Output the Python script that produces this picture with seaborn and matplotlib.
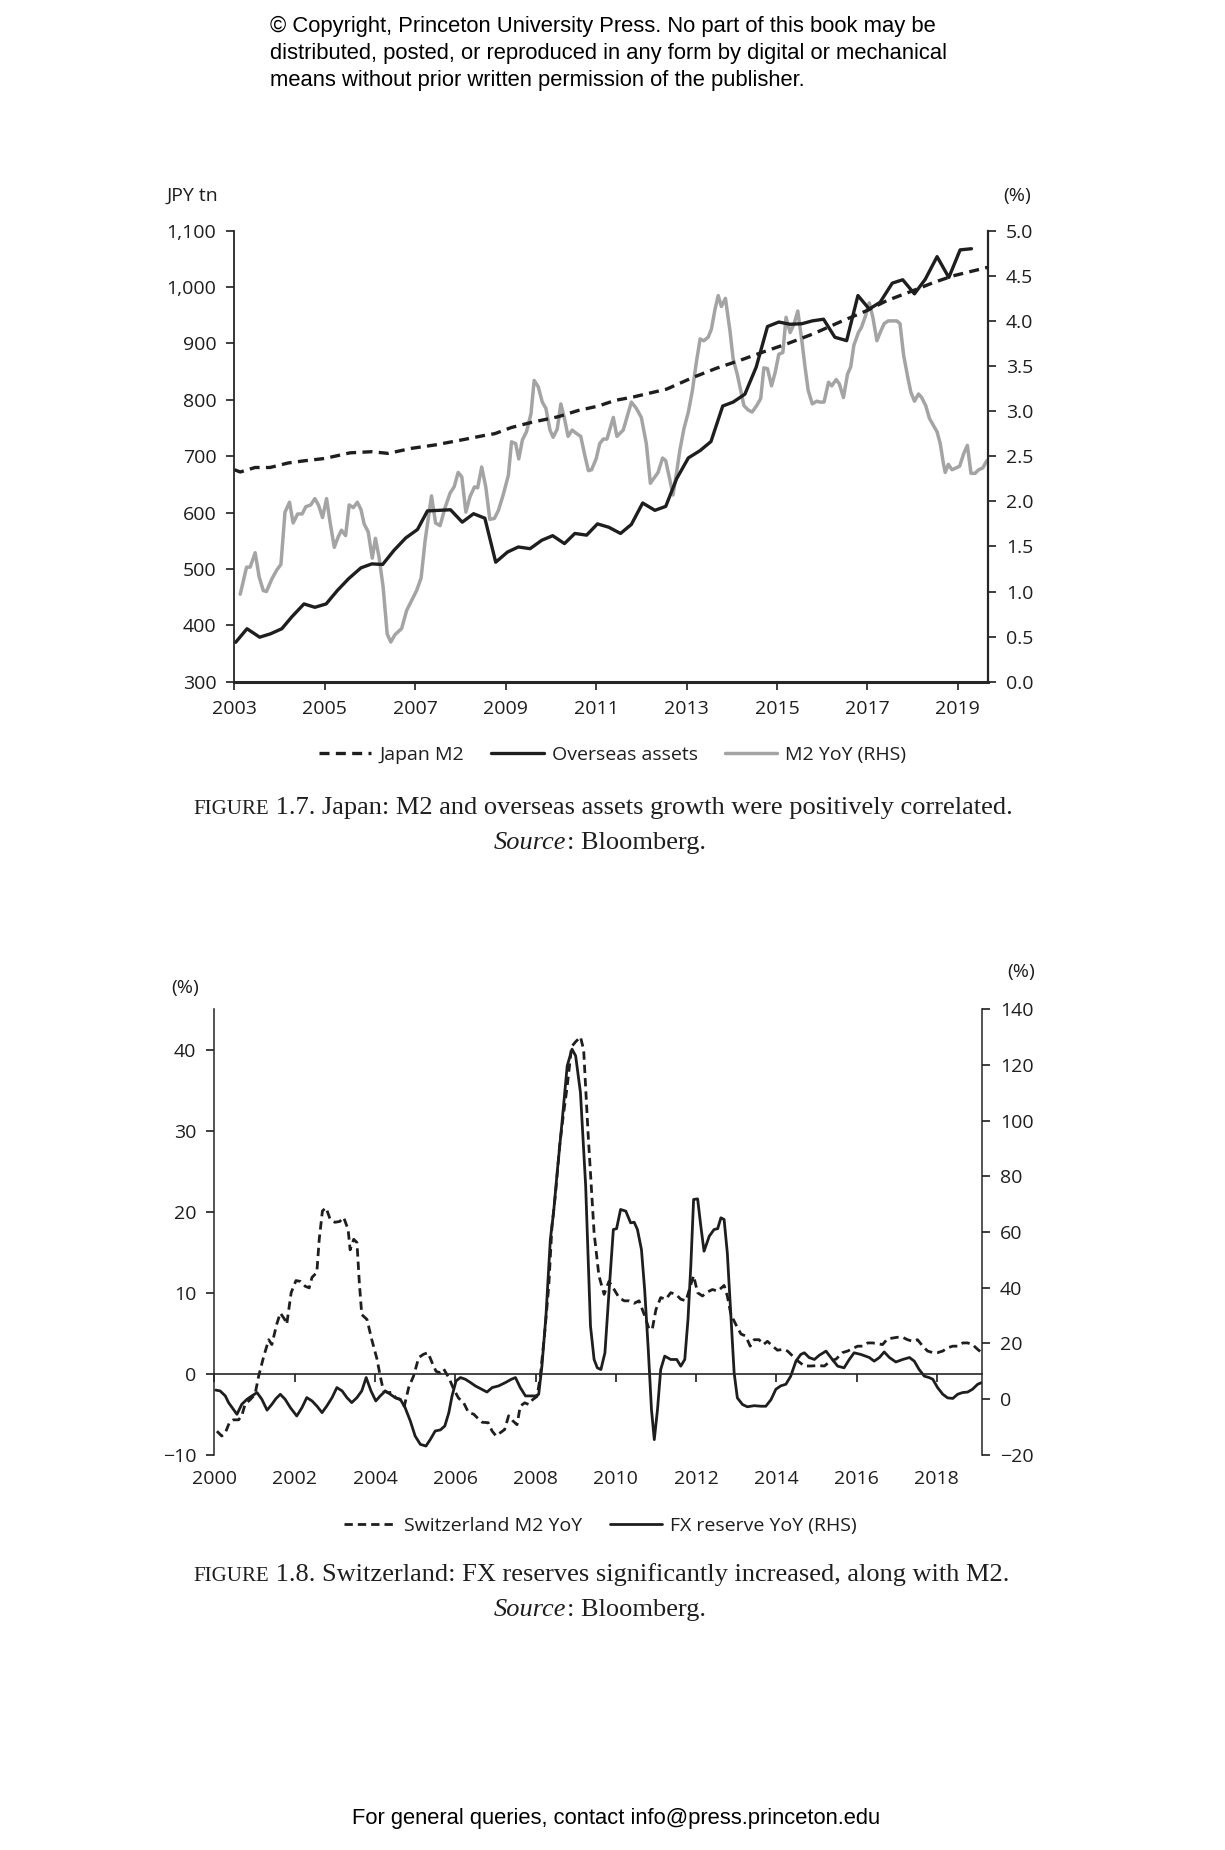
import matplotlib
matplotlib.use("Agg")
import matplotlib.pyplot as plt
import seaborn as sns

#  Data 
# Figure 1.7 (Japan): left axis JPY tn, right axis % (RHS)
jm2_year = [2003.0, 2003.13, 2003.46, 2003.79, 2004.19, 2004.56, 2005.0, 2005.56, 2006.04,
            2006.4, 2006.92, 2007.44, 2008.1, 2008.54, 2008.76, 2009.13, 2009.57, 2010.16,
            2010.6, 2011.05, 2011.42, 2011.82, 2012.56, 2013.15, 2013.66, 2014.18, 2014.77,
            2015.21, 2015.8, 2016.39, 2016.98, 2017.43, 2018.02, 2018.46, 2018.9, 2019.2, 2019.66]
jm2 = [676, 672, 680, 680, 688, 692, 696, 706, 708, 705, 714, 720, 730, 737, 740, 751, 760,
       770, 781, 789, 799, 805, 819, 840, 856, 870, 887, 899, 917, 938, 958, 976, 994, 1008,
       1020, 1026, 1035]

oa_year = [2003.03, 2003.28, 2003.56, 2003.8, 2004.05, 2004.27, 2004.54, 2004.78, 2005.03,
           2005.28, 2005.53, 2005.8, 2006.04, 2006.28, 2006.53, 2006.79, 2007.05, 2007.27,
           2007.53, 2007.78, 2008.04, 2008.29, 2008.54, 2008.78, 2009.04, 2009.28, 2009.54,
           2009.8, 2010.04, 2010.3, 2010.53, 2010.79, 2011.03, 2011.28, 2011.54, 2011.78,
           2012.03, 2012.3, 2012.54, 2012.78, 2013.04, 2013.3, 2013.54, 2013.8, 2014.03,
           2014.29, 2014.54, 2014.79, 2015.04, 2015.29, 2015.55, 2015.78, 2016.03, 2016.28,
           2016.54, 2016.79, 2017.04, 2017.28, 2017.55, 2017.78, 2018.04, 2018.28, 2018.54,
           2018.8, 2019.05, 2019.3]
oa = [370, 394, 379, 385, 394, 415, 438, 432, 438, 462, 483, 502, 509, 508, 533, 555, 570,
      603, 604, 605, 583, 598, 590, 512, 530, 539, 536, 551, 559, 545, 563, 560, 580, 574,
      563, 579, 617, 604, 611, 660, 697, 710, 726, 789, 796, 810, 858, 930, 938, 934, 935,
      940, 943, 911, 905, 985, 961, 973, 1007, 1013, 988, 1014, 1054, 1017, 1066, 1068]

yoy_year = [2003.13, 2003.27, 2003.35, 2003.46, 2003.55, 2003.64, 2003.71, 2003.83, 2003.94,
            2004.03, 2004.12, 2004.22, 2004.3, 2004.4, 2004.5, 2004.58, 2004.69, 2004.78,
            2004.86, 2004.95, 2005.04, 2005.11, 2005.21, 2005.3, 2005.37, 2005.46, 2005.54,
            2005.63, 2005.72, 2005.8, 2005.87, 2005.96, 2006.05, 2006.12, 2006.2, 2006.29,
            2006.38, 2006.46, 2006.55, 2006.7, 2006.81, 2006.92, 2007.03, 2007.13, 2007.22,
            2007.36, 2007.45, 2007.55, 2007.66, 2007.77, 2007.86, 2007.95, 2008.03, 2008.12,
            2008.21, 2008.31, 2008.38, 2008.47, 2008.56, 2008.65, 2008.75, 2008.84, 2008.95,
            2009.06, 2009.13, 2009.22, 2009.29, 2009.37, 2009.46, 2009.56, 2009.63, 2009.72,
            2009.81, 2009.89, 2009.98, 2010.05, 2010.14, 2010.22, 2010.3, 2010.38, 2010.47,
            2010.57, 2010.66, 2010.75, 2010.83, 2010.9, 2011.0, 2011.08, 2011.16, 2011.24,
            2011.38, 2011.46, 2011.6, 2011.78, 2011.89, 2012.0, 2012.11, 2012.2, 2012.3,
            2012.37, 2012.47, 2012.54, 2012.63, 2012.7, 2012.78, 2012.85, 2012.94, 2013.04,
            2013.13, 2013.21, 2013.3, 2013.38, 2013.48, 2013.55, 2013.63, 2013.7, 2013.77,
            2013.86, 2013.96, 2014.03, 2014.12, 2014.18, 2014.27, 2014.37, 2014.45, 2014.55,
            2014.64, 2014.71, 2014.79, 2014.88, 2014.96, 2015.04, 2015.13, 2015.2, 2015.29,
            2015.38, 2015.46, 2015.55, 2015.62, 2015.69, 2015.78, 2015.88, 2015.95, 2016.04,
            2016.14, 2016.21, 2016.31, 2016.38, 2016.47, 2016.56, 2016.63, 2016.7, 2016.8,
            2016.87, 2016.96, 2017.04, 2017.12, 2017.21, 2017.28, 2017.37, 2017.46, 2017.55,
            2017.65, 2017.72, 2017.8, 2017.89, 2017.96, 2018.04, 2018.13, 2018.2, 2018.29,
            2018.37, 2018.45, 2018.54, 2018.61, 2018.68, 2018.72, 2018.79, 2018.87, 2018.96,
            2019.04, 2019.13, 2019.21, 2019.29, 2019.38, 2019.46, 2019.55, 2019.64]
yoy = [0.97, 1.27, 1.27, 1.43, 1.16, 1.01, 1.00, 1.14, 1.24, 1.30, 1.88, 1.99, 1.76, 1.86,
       1.86, 1.94, 1.96, 2.03, 1.96, 1.82, 2.03, 1.79, 1.49, 1.61, 1.68, 1.62, 1.96, 1.93,
       1.99, 1.91, 1.75, 1.66, 1.37, 1.59, 1.38, 1.05, 0.53, 0.44, 0.52, 0.59, 0.79, 0.90,
       1.01, 1.15, 1.57, 2.06, 1.76, 1.73, 1.93, 2.09, 2.16, 2.32, 2.27, 1.88, 2.05, 2.16,
       2.15, 2.38, 2.16, 1.80, 1.81, 1.90, 2.08, 2.29, 2.66, 2.64, 2.47, 2.68, 2.77, 2.97,
       3.34, 3.27, 3.10, 3.03, 2.79, 2.71, 2.80, 3.08, 2.92, 2.72, 2.79, 2.75, 2.72, 2.51,
       2.34, 2.35, 2.47, 2.64, 2.69, 2.69, 2.93, 2.72, 2.79, 3.10, 3.03, 2.93, 2.64, 2.20,
       2.27, 2.32, 2.48, 2.45, 2.24, 2.07, 2.32, 2.56, 2.80, 2.99, 3.23, 3.52, 3.80, 3.78,
       3.82, 3.91, 4.13, 4.28, 4.16, 4.25, 3.89, 3.58, 3.41, 3.27, 3.06, 3.01, 2.99, 3.06,
       3.14, 3.48, 3.47, 3.28, 3.43, 3.63, 3.65, 4.04, 3.87, 3.97, 4.11, 3.78, 3.49, 3.23,
       3.08, 3.11, 3.10, 3.10, 3.32, 3.28, 3.35, 3.30, 3.15, 3.41, 3.49, 3.73, 3.87, 3.93,
       4.06, 4.20, 4.04, 3.78, 3.87, 3.97, 4.00, 4.00, 4.00, 3.97, 3.62, 3.38, 3.21, 3.11,
       3.19, 3.15, 3.06, 2.92, 2.85, 2.77, 2.64, 2.42, 2.32, 2.41, 2.35, 2.37, 2.39, 2.53,
       2.62, 2.31, 2.31, 2.35, 2.37, 2.45]

# Figure 1.8 (Switzerland): left axis %, right axis % (RHS)
sw_year = [2000.06, 2000.18, 2000.27, 2000.37, 2000.47, 2000.6, 2000.68, 2000.76, 2000.89,
           2001.01, 2001.1, 2001.22, 2001.35, 2001.43, 2001.55, 2001.64, 2001.75, 2001.8,
           2001.91, 2002.03, 2002.14, 2002.26, 2002.36, 2002.43, 2002.55, 2002.61, 2002.69,
           2002.78, 2002.88, 2003.0, 2003.12, 2003.22, 2003.33, 2003.38, 2003.47, 2003.55,
           2003.61, 2003.67, 2003.8, 2003.92, 2004.05, 2004.13, 2004.21, 2004.32, 2004.42,
           2004.52, 2004.63, 2004.73, 2004.84, 2004.96, 2005.09, 2005.21, 2005.32, 2005.42,
           2005.52, 2005.63, 2005.71, 2005.84, 2005.96, 2006.08, 2006.21, 2006.33, 2006.46,
           2006.54, 2006.67, 2006.82, 2006.92, 2007.02, 2007.12, 2007.23, 2007.33, 2007.43,
           2007.54, 2007.62, 2007.73, 2007.83, 2007.93, 2008.04, 2008.12, 2008.23, 2008.33,
           2008.41, 2008.5, 2008.6, 2008.68, 2008.79, 2008.9, 2009.0, 2009.12, 2009.2, 2009.31,
           2009.41, 2009.46, 2009.58, 2009.71, 2009.83, 2009.96, 2010.08, 2010.21, 2010.33,
           2010.46, 2010.58, 2010.71, 2010.83, 2010.91, 2011.0, 2011.12, 2011.25, 2011.37,
           2011.5, 2011.62, 2011.75, 2011.87, 2011.94, 2012.04, 2012.16, 2012.29, 2012.41,
           2012.54, 2012.7, 2012.78, 2012.87, 2012.99, 2013.12, 2013.24, 2013.35, 2013.45,
           2013.57, 2013.68, 2013.78, 2013.91, 2014.03, 2014.16, 2014.28, 2014.53, 2014.7,
           2014.86, 2015.03, 2015.2, 2015.36, 2015.49, 2015.65, 2015.78, 2015.9, 2016.03,
           2016.15, 2016.28, 2016.4, 2016.53, 2016.65, 2016.77, 2016.9, 2017.02, 2017.15,
           2017.27, 2017.4, 2017.52, 2017.65, 2017.77, 2017.9, 2018.02, 2018.15, 2018.27,
           2018.4, 2018.52, 2018.65, 2018.77, 2018.89, 2019.02, 2019.12]
sw = [-7.1, -7.7, -7.3, -6.05, -5.7, -5.7, -5.2, -3.8, -3.2, -2.55, -0.3, 2.0, 4.2, 3.6, 6.1,
      7.5, 6.7, 6.1, 10.0, 11.5, 11.4, 10.8, 10.6, 11.9, 12.5, 16.6, 20.1, 20.5, 19.1, 18.7,
      18.8, 19.3, 17.8, 15.3, 16.6, 16.2, 11.2, 7.3, 6.7, 4.2, 1.8, -0.3, -2.1, -2.35, -2.3,
      -3.0, -3.2, -4.0, -1.7, -0.3, 2.0, 2.4, 2.6, 1.4, 0.3, 0.1, 0.6, -0.5, -1.9, -3.0, -3.6,
      -4.8, -5.0, -5.4, -6.0, -6.05, -7.1, -7.7, -7.3, -6.9, -5.2, -5.8, -6.3, -4.0, -3.6,
      -3.8, -3.2, -2.8, -0.3, 5.1, 10.8, 18.2, 22.3, 28.1, 31.4, 35.5, 40.4, 41.0, 41.6, 40.0,
      29.7, 21.5, 17.4, 12.1, 9.8, 11.4, 10.4, 9.4, 9.0, 9.0, 8.7, 9.0, 7.3, 5.5, 5.5, 7.9,
      9.4, 9.2, 10.0, 9.8, 9.2, 9.0, 11.0, 12.1, 10.0, 9.6, 10.1, 10.4, 10.2, 10.9, 9.6, 7.3,
      6.1, 4.9, 4.65, 3.4, 4.2, 4.2, 3.6, 4.0, 3.4, 2.9, 3.0, 2.8, 1.6, 0.95, 0.95, 1.0, 0.95,
      1.6, 1.8, 2.6, 2.8, 3.1, 3.4, 3.4, 3.8, 3.8, 3.7, 3.6, 4.3, 4.4, 4.5, 4.5, 4.2, 4.0, 4.2,
      3.4, 2.8, 2.6, 2.6, 2.8, 3.2, 3.4, 3.4, 3.8, 3.8, 3.6, 3.0, 2.6]

fx_year = [2000.03, 2000.14, 2000.27, 2000.35, 2000.47, 2000.56, 2000.68, 2000.81, 2000.93,
           2001.06, 2001.18, 2001.31, 2001.43, 2001.53, 2001.64, 2001.76, 2001.89, 2002.05,
           2002.18, 2002.3, 2002.43, 2002.55, 2002.68, 2002.8, 2002.93, 2003.05, 2003.18,
           2003.3, 2003.42, 2003.55, 2003.67, 2003.78, 2003.9, 2004.02, 2004.13, 2004.26,
           2004.38, 2004.5, 2004.63, 2004.75, 2004.88, 2005.0, 2005.13, 2005.27, 2005.38,
           2005.5, 2005.63, 2005.74, 2005.84, 2005.92, 2006.02, 2006.13, 2006.25, 2006.38,
           2006.5, 2006.63, 2006.79, 2006.92, 2007.08, 2007.25, 2007.4, 2007.5, 2007.62,
           2007.75, 2007.87, 2008.0, 2008.08, 2008.16, 2008.26, 2008.37, 2008.45, 2008.54,
           2008.66, 2008.79, 2008.91, 2009.0, 2009.12, 2009.25, 2009.37, 2009.46, 2009.54,
           2009.63, 2009.73, 2009.83, 2009.94, 2010.02, 2010.12, 2010.25, 2010.37, 2010.46,
           2010.54, 2010.64, 2010.72, 2010.81, 2010.89, 2010.96, 2011.04, 2011.12, 2011.22,
           2011.37, 2011.52, 2011.62, 2011.72, 2011.8, 2011.87, 2011.94, 2012.04, 2012.12,
           2012.2, 2012.33, 2012.45, 2012.54, 2012.62, 2012.7, 2012.78, 2012.87, 2012.95,
           2013.03, 2013.16, 2013.28, 2013.45, 2013.62, 2013.74, 2013.87, 2013.99, 2014.11,
           2014.24, 2014.36, 2014.49, 2014.61, 2014.7, 2014.82, 2014.95, 2015.07, 2015.24,
           2015.36, 2015.53, 2015.69, 2015.82, 2015.94, 2016.11, 2016.32, 2016.44, 2016.57,
           2016.69, 2016.82, 2016.98, 2017.15, 2017.32, 2017.44, 2017.56, 2017.69, 2017.81,
           2017.9, 2018.02, 2018.15, 2018.27, 2018.4, 2018.52, 2018.64, 2018.77, 2018.89,
           2019.02, 2019.12]
fx = [3.2, 2.9, 1.1, -1.3, -3.7, -5.5, -1.9, -0.1, 1.1, 2.3, -0.1, -4.0, -1.9, 0.1, 1.7,
      -0.1, -3.1, -6.1, -3.1, 0.5, -0.7, -2.5, -4.9, -2.5, 0.5, 4.1, 2.9, 0.5, -1.3, 0.5, 2.9,
      7.7, 2.9, -0.7, 1.1, 2.9, 1.7, 0.5, -0.1, -3.1, -7.9, -13.3, -16.3, -16.9, -14.5, -11.5,
      -11.1, -9.7, -4.9, 1.1, 6.5, 7.7, 7.1, 5.9, 4.7, 3.7, 2.5, 4.1, 4.7, 5.9, 7.1, 7.7, 4.1,
      1.1, 1.1, 1.1, 1.7, 11.9, 29.8, 57.4, 67.0, 81.4, 99.3, 119.7, 125.7, 123.3, 110.1,
      76.6, 26.2, 14.2, 11.2, 10.6, 16.6, 38.1, 60.9, 61.2, 68.1, 67.5, 63.3, 63.5, 60.9,
      53.7, 39.3, 17.8, -3.8, -14.6, -3.8, 10.6, 15.4, 14.2, 14.2, 11.8, 14.2, 28.6, 47.7,
      71.7, 71.9, 62.1, 53.1, 58.5, 60.9, 61.2, 65.1, 64.5, 52.5, 29.8, 9.4, 0.4, -2.0, -2.8,
      -2.4, -2.6, -2.6, -0.2, 3.5, 4.7, 5.3, 8.2, 13.6, 16.0, 16.6, 14.9, 14.2, 15.7, 17.2,
      14.9, 11.8, 11.2, 14.2, 16.6, 16.0, 14.9, 13.6, 14.9, 16.9, 14.9, 13.3, 14.2, 14.9, 13.6,
      10.6, 8.2, 7.7, 7.1, 4.1, 1.7, 0.4, 0.2, 1.7, 2.3, 2.5, 3.5, 5.3, 5.9]

# tick values / labels
jp_years = list(range(2003, 2020, 2))
jp_left = list(range(300, 1101, 100))
jp_right = [0.0, 0.5, 1.0, 1.5, 2.0, 2.5, 3.0, 3.5, 4.0, 4.5, 5.0]
ch_years = list(range(2000, 2019, 2))
ch_left = [-10, 0, 10, 20, 30, 40]
ch_right = [-20, 0, 20, 40, 60, 80, 100, 120, 140]

#  Setup 
sns.set_style("ticks")
plt.rcParams["font.family"] = ["Open Sans", "DejaVu Sans"]

INK = "#1e1e1e"
GREY = "#a4a4a4"
SERIF = ["Liberation Serif", "DejaVu Serif"]
ARIAL = ["Liberation Sans", "DejaVu Sans"]

fig = plt.figure(figsize=(12.25, 18.5), dpi=100)


def style_ticks(ax, pad=7):
    ax.tick_params(direction="out", length=6, width=1.2, labelsize=14,
                   pad=pad, color=INK, labelcolor=INK)


#  PLOT 1: Japan 
ax1 = fig.add_axes([0.1913, 0.6315, 0.615, 0.2438])
ax1r = ax1.twinx()
sns.lineplot(x=yoy_year, y=yoy, ax=ax1r, color=GREY, linewidth=2.5)
sns.lineplot(x=jm2_year, y=jm2, ax=ax1, color=INK, linewidth=2.4,
             linestyle=(0, (3.0, 1.9)))
sns.lineplot(x=oa_year, y=oa, ax=ax1, color=INK, linewidth=2.4)
ax1.set_zorder(ax1r.get_zorder() + 1)
ax1.patch.set_visible(False)

ax1.set_xlim(2003, 2019.66)
ax1.set_ylim(300, 1100)
ax1r.set_ylim(0, 5)
ax1.set_xticks(jp_years)
ax1.set_xticklabels([str(y) for y in jp_years])
ax1.set_yticks(jp_left)
ax1.set_yticklabels([f"{v:,}" for v in jp_left])
ax1r.set_yticks(jp_right)
ax1r.set_yticklabels([f"{v:.1f}" for v in jp_right])
for a in (ax1, ax1r):
    a.set_xlabel("")
    a.set_ylabel("")
    style_ticks(a)
    a.spines["top"].set_visible(False)
ax1.spines["right"].set_visible(False)
ax1r.spines["left"].set_visible(False)
ax1r.spines["bottom"].set_visible(False)
ax1.spines["left"].set_linewidth(1.3)
ax1.spines["bottom"].set_linewidth(2.2)
ax1r.spines["right"].set_linewidth(1.6)

fig.text(0.1363, 0.894, "JPY tn", fontsize=14, color=INK, ha="left", va="center")
fig.text(0.8188, 0.894, "(%)", fontsize=14, color=INK, ha="left", va="center")

fig.legend([ax1.lines[0], ax1.lines[1], ax1r.lines[0]],
           ["Japan M2", "Overseas assets", "M2 YoY (RHS)"],
           loc="center", bbox_to_anchor=(0.5, 0.592), ncol=3, frameon=False,
           fontsize=14, handlelength=2.7, handletextpad=0.4, columnspacing=1.4,
           labelcolor=INK)

#  PLOT 2: Switzerland 
ax2 = fig.add_axes([0.1751, 0.2137, 0.6263, 0.2407])
ax2r = ax2.twinx()
sns.lineplot(x=fx_year, y=fx, ax=ax2r, color=INK, linewidth=2.0)
sns.lineplot(x=sw_year, y=sw, ax=ax2, color=INK, linewidth=2.0,
             linestyle=(0, (3.0, 1.8)))
ax2.set_zorder(ax2r.get_zorder() + 1)
ax2.patch.set_visible(False)

ax2.set_xlim(2000, 2019.12)
ax2.set_ylim(-10, 45)
ax2r.set_ylim(-20, 140)
ax2.set_xticks(ch_years)
ax2.set_xticklabels([str(y) for y in ch_years])
ax2.set_yticks(ch_left)
ax2.set_yticklabels([f"{v}".replace("-", "\u2212") for v in ch_left])
ax2r.set_yticks(ch_right)
ax2r.set_yticklabels([f"{v}".replace("-", "\u2212") for v in ch_right])
for a in (ax2, ax2r):
    a.set_xlabel("")
    a.set_ylabel("")
    style_ticks(a)
    a.spines["top"].set_visible(False)
ax2.spines["right"].set_visible(False)
ax2r.spines["left"].set_visible(False)
ax2r.spines["bottom"].set_visible(False)
# the x axis sits on the zero line, labels stay under the plot
ax2.spines["bottom"].set_position(("data", 0))
ax2.spines["bottom"].set_linewidth(1.2)
ax2.spines["left"].set_linewidth(1.1)
ax2r.spines["right"].set_linewidth(1.1)
ax2.tick_params(axis="x", pad=63.5)

fig.text(0.1402, 0.466, "(%)", fontsize=14, color=INK, ha="left", va="center")
fig.text(0.822, 0.4745, "(%)", fontsize=14, color=INK, ha="left", va="center")

fig.legend([ax2.lines[0], ax2r.lines[0]],
           ["Switzerland M2 YoY", "FX reserve YoY (RHS)"],
           loc="center", bbox_to_anchor=(0.49, 0.175), ncol=2, frameon=False,
           fontsize=14, handlelength=2.7, handletextpad=0.4, columnspacing=1.4,
           labelcolor=INK)

#  Captions and page text 
def caption(y_top, y_src, rest):
    fig.text(0.2196, y_top, "FIGURE", family=SERIF, fontsize=15, color=INK,
             ha="right", va="baseline")
    fig.text(0.2196, y_top, " " + rest, family=SERIF, fontsize=19, color=INK,
             ha="left", va="baseline")
    fig.text(0.4625, y_src, "Source", family=SERIF, fontsize=19, style="italic",
             color=INK, ha="right", va="baseline")
    fig.text(0.4625, y_src, ": Bloomberg.", family=SERIF, fontsize=19, color=INK,
             ha="left", va="baseline")


caption(0.5599, 0.5412,
        "1.7. Japan: M2 and overseas assets growth were positively correlated.")
caption(0.1452, 0.1267,
        "1.8. Switzerland: FX reserves significantly increased, along with M2.")

header = ["\u00a9 Copyright, Princeton University Press. No part of this book may be",
          "distributed, posted, or reproduced in any form by digital or mechanical",
          "means without prior written permission of the publisher."]
for i, line in enumerate(header):
    fig.text(0.2204, 0.9859 - i * 0.0147, line, family=ARIAL, fontsize=15.8,
             color="black", ha="left", va="center")

fig.text(0.503, 0.0168, "For general queries, contact info@press.princeton.edu",
         family=ARIAL, fontsize=15.8, color="black", ha="center", va="center")

fig.savefig("out.png", dpi=100)
print("Saved: out.png")
